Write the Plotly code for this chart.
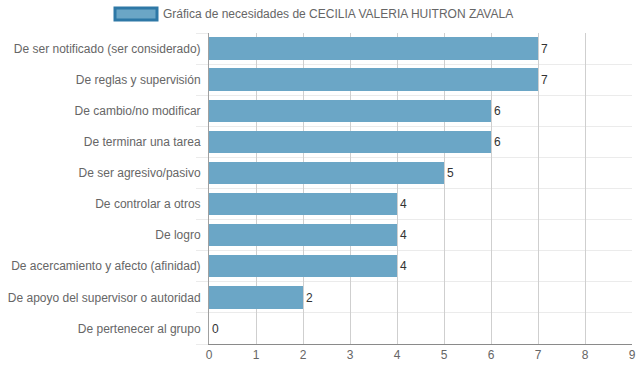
import plotly.graph_objects as go

categories = [
    "De ser notificado (ser considerado)",
    "De reglas y supervisión",
    "De cambio/no modificar",
    "De terminar una tarea",
    "De ser agresivo/pasivo",
    "De controlar a otros",
    "De logro",
    "De acercamiento y afecto (afinidad)",
    "De apoyo del supervisor o autoridad",
    "De pertenecer al grupo",
]
values = [7, 7, 6, 6, 5, 4, 4, 4, 2, 0]
series_name = "Gráfica de necesidades de CECILIA VALERIA HUITRON ZAVALA"
x_ticks = list(range(10))

W, H = 639, 372
ML, MR, MT, MB = 209, 7, 33, 28
pw, ph = W - ML - MR, H - MT - MB

def px_x(p):
    return (p - ML) / pw

def px_y(p):
    return (H - MB - p) / ph

idx = list(range(len(categories)))

fig = go.Figure()
fig.add_trace(go.Bar(
    x=values, y=idx, orientation="h",
    width=0.72,
    marker=dict(color="#6ba6c6", line=dict(width=0)),
    text=[str(v) for v in values], textposition="outside",
    textfont=dict(family="Liberation Sans, Arial, sans-serif", size=12, color="#333"),
    cliponaxis=False, showlegend=False, name=series_name,
))

fig.update_layout(
    width=W, height=H,
    margin=dict(l=ML, r=MR, t=MT, b=MB, pad=0, autoexpand=False),
    plot_bgcolor="white", paper_bgcolor="white",
    font=dict(family="Liberation Sans, Arial, sans-serif", size=12, color="#666"),
    bargap=0,
    showlegend=False,
    xaxis=dict(
        range=[0, 9], tickvals=x_ticks, ticktext=[str(t) for t in x_ticks],
        showgrid=True, gridcolor="#cfcfcf", gridwidth=1,
        zeroline=False, showline=True, linecolor="#8a8a8a", linewidth=1,
        ticks="", tickfont=dict(size=12, color="#666"),
        automargin=False, fixedrange=True,
    ),
    yaxis=dict(
        range=[len(categories) - 0.5, -0.5],
        tickvals=idx, ticktext=categories,
        showgrid=False, zeroline=False,
        showline=True, linecolor="#a0a0a0", linewidth=1,
        ticks="outside", ticklen=5, tickcolor="rgba(0,0,0,0)",
        minor=dict(tick0=0.5, dtick=1, showgrid=True, gridcolor="#ebebeb",
                   ticks="outside", ticklen=12, tickcolor="#ebebeb"),
        tickfont=dict(size=12, color="#666"),
        automargin=False, fixedrange=True,
    ),
)

# legend box drawn as a shape + text, like the reference
fig.add_shape(type="rect", xref="paper", yref="paper",
              x0=px_x(115), x1=px_x(157), y0=px_y(20), y1=px_y(8),
              fillcolor="#6ba6c6", line=dict(color="#2e78a6", width=3))
fig.add_annotation(xref="paper", yref="paper", x=px_x(161), y=px_y(14),
                   xanchor="left", yanchor="middle", showarrow=False,
                   text=series_name, font=dict(size=12, color="#666"))

fig.write_html("out.html", config={"displayModeBar": False},
               post_script="document.body.style.margin='0';document.body.style.overflow='hidden';")
